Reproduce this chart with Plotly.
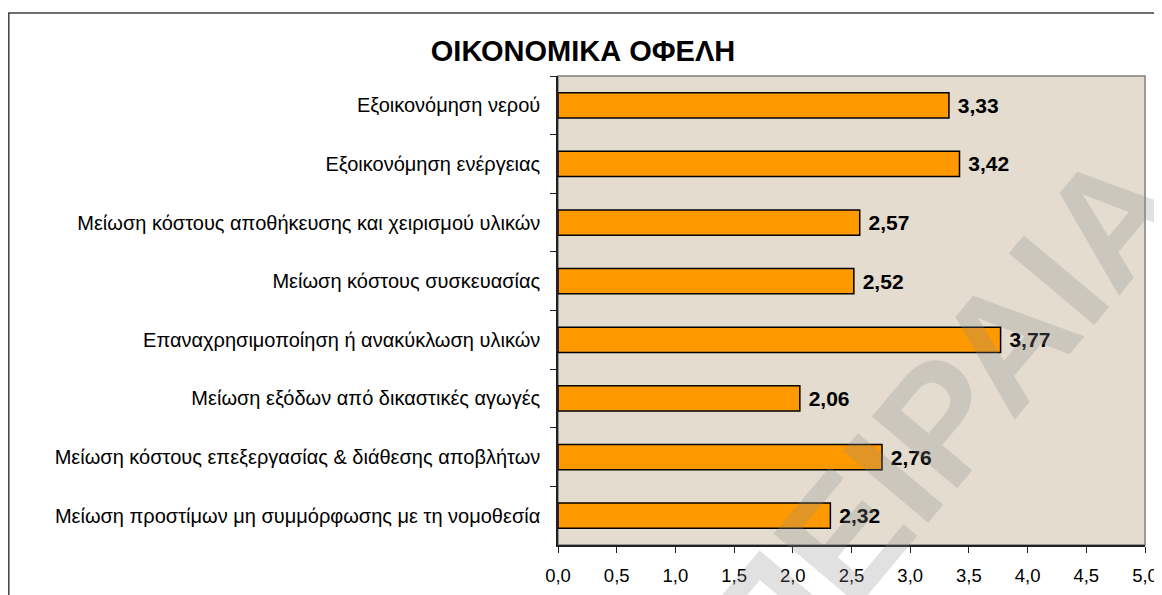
import plotly.graph_objects as go

categories = [
    "Εξοικονόμηση νερού",
    "Εξοικονόμηση ενέργειας",
    "Μείωση κόστους αποθήκευσης και χειρισμού υλικών",
    "Μείωση κόστους συσκευασίας",
    "Επαναχρησιμοποίηση ή ανακύκλωση υλικών",
    "Μείωση εξόδων από δικαστικές αγωγές",
    "Μείωση κόστους επεξεργασίας & διάθεσης αποβλήτων",
    "Μείωση προστίμων μη συμμόρφωσης με τη νομοθεσία",
]
values = [3.33, 3.42, 2.57, 2.52, 3.77, 2.06, 2.76, 2.32]
x_ticks = [0, 0.5, 1, 1.5, 2, 2.5, 3, 3.5, 4, 4.5, 5]
title_text = "ΟΙΚΟΝΟΜΙΚΑ ΟΦΕΛΗ"
watermark = "ΠΕΙΡΑΙΑ"

labels = ["\u00a0" + f"{v:.2f}".replace(".", ",") for v in values]

# The page body adds an 8px margin, so the figure is drawn 8px in from the corner.
OFF = 8
W, H = 1162 - OFF, 595 - OFF
# plot area in page pixels: x 558..1145, y 76..545
ml = 558 - OFF
mr = W - (1145 - OFF)
mt = 76 - OFF
mb = H - (545 - OFF)
pw, ph = W - ml - mr, H - mt - mb

FONT = "Liberation Sans, Arial, sans-serif"

fig = go.Figure(
    go.Bar(
        x=values,
        y=categories,
        orientation="h",
        width=0.43,
        marker=dict(color="#FF9900", line=dict(color="#000000", width=1.5)),
        text=labels,
        textposition="outside",
        cliponaxis=False,
        hoverinfo="x+y",
        textfont=dict(family=FONT, size=21, color="#000000", weight="bold"),
    )
)

def px_x(page_x):
    return (page_x - OFF - ml) / pw

def px_y(page_y):
    return (H - mb - (page_y - OFF)) / ph

fig.update_layout(
    width=W,
    height=H,
    margin=dict(l=ml, r=mr, t=mt, b=mb, autoexpand=False),
    paper_bgcolor="#FFFFFF",
    plot_bgcolor="#E3DCCF",
    separators=",.",
    showlegend=False,
    font=dict(family=FONT, color="#000000"),
    title=dict(
        text=title_text,
        x=(583 - OFF) / W,
        xanchor="center",
        y=1 - (51 - OFF) / H,
        yanchor="middle",
        font=dict(family=FONT, size=29, color="#000000", weight="bold"),
    ),
    xaxis=dict(
        range=[0, 5],
        tickvals=x_ticks,
        tickformat=".1f",
        showgrid=False,
        zeroline=False,
        showline=True,
        linecolor="#202020",
        linewidth=1.5,
        ticks="outside",
        ticklen=6,
        tickcolor="#202020",
        ticklabelstandoff=7,
        automargin=False,
        tickfont=dict(size=18.5, color="#000000"),
    ),
    yaxis=dict(
        autorange="reversed",
        showgrid=False,
        showline=True,
        linecolor="#202020",
        linewidth=1.5,
        ticks="outside",
        ticklen=6,
        tickcolor="#202020",
        tickson="boundaries",
        ticklabelstandoff=12,
        automargin=False,
        tickfont=dict(size=20, color="#000000"),
    ),
    shapes=[
        dict(type="rect", xref="paper", yref="paper", x0=0, x1=1, y0=0, y1=1,
             line=dict(color="#808080", width=1.5), layer="below"),
        dict(type="rect", xref="paper", yref="paper",
             x0=px_x(8.8), x1=px_x(1158), y0=px_y(13), y1=px_y(640),
             line=dict(color="#404040", width=1.5)),
    ],
    annotations=[
        dict(text=watermark, xref="paper", yref="paper",
             x=px_x(940), y=px_y(420), xanchor="center", yanchor="middle",
             showarrow=False, textangle=-50,
             font=dict(family=FONT, size=162, weight="bold",
                       color="rgba(140,140,140,0.26)")),
    ],
)

fig.write_html("out.html")
